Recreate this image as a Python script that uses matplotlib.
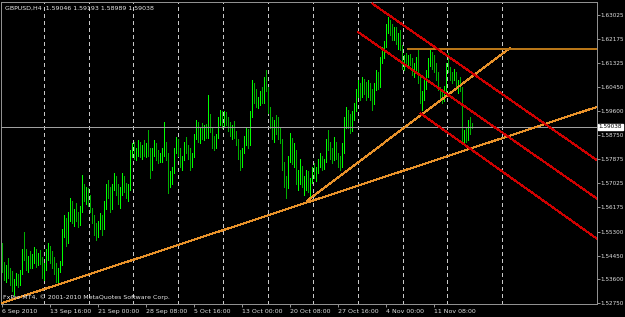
import matplotlib
matplotlib.use("Agg")
import matplotlib.pyplot as plt
from matplotlib import font_manager

# ---------------- data ----------------
symbol_title = "GBPUSD,H4"
last_ohlc = ["1.59046", "1.59193", "1.58989", "1.59038"]
last_price = 1.59038
copyright_text = "FxPro MT4, \u00a9 2001-2010 MetaQuotes Software Corp."

bar_open = [1.5460,1.5400,1.5370,1.5395,1.5375,1.5350,1.5330,1.5345,1.5370,1.5345,
            1.5385,1.5455,1.5450,1.5410,1.5430,1.5415,1.5440,1.5460,1.5425,1.5445,
            1.5420,1.5380,1.5400,1.5455,1.5470,1.5435,1.5420,1.5390,1.5365,1.5395,
            1.5415,1.5525,1.5575,1.5500,1.5590,1.5630,1.5575,1.5600,1.5580,1.5560,
            1.5610,1.5690,1.5660,1.5680,1.5640,1.5610,1.5575,1.5540,1.5520,1.5555,
            1.5580,1.5545,1.5630,1.5690,1.5660,1.5620,1.5690,1.5720,1.5680,1.5650,
            1.5670,1.5720,1.5690,1.5680,1.5690,1.5810,1.5830,1.5800,1.5820,1.5840,
            1.5810,1.5830,1.5815,1.5835,1.5820,1.5760,1.5815,1.5840,1.5800,1.5790,
            1.5800,1.5815,1.5830,1.5800,1.5700,1.5730,1.5750,1.5820,1.5850,1.5815,
            1.5780,1.5790,1.5840,1.5820,1.5800,1.5770,1.5800,1.5870,1.5900,1.5870,
            1.5890,1.5880,1.5900,1.5870,1.5935,1.5900,1.5850,1.5840,1.5870,1.5930,
            1.5950,1.5915,1.5945,1.5920,1.5900,1.5880,1.5900,1.5875,1.5850,1.5800,
            1.5770,1.5820,1.5860,1.5890,1.5845,1.5950,1.6050,1.6010,1.5990,1.6000,
            1.6020,1.6000,1.6070,1.6040,1.5970,1.5910,1.5880,1.5920,1.5890,1.5870,
            1.5855,1.5760,1.5700,1.5690,1.5790,1.5860,1.5780,1.5800,1.5710,1.5730,
            1.5760,1.5700,1.5700,1.5735,1.5690,1.5710,1.5750,1.5730,1.5750,1.5780,
            1.5790,1.5765,1.5785,1.5850,1.5830,1.5800,1.5790,1.5840,1.5800,1.5780,
            1.5770,1.5830,1.5920,1.5950,1.5920,1.5900,1.5950,1.5980,1.6030,1.6050,
            1.6020,1.6060,1.6040,1.6020,1.6050,1.6010,1.5990,1.6050,1.6090,1.6070,
            1.6140,1.6180,1.6200,1.6260,1.6270,1.6250,1.6230,1.6245,1.6210,1.6220,
            1.6190,1.6130,1.6150,1.6140,1.6155,1.6130,1.6100,1.6120,1.6140,1.6070,
            1.6000,1.6020,1.6060,1.6090,1.6140,1.6160,1.6130,1.6120,1.6080,1.6040,
            1.6010,1.6000,1.6040,1.6120,1.6110,1.6090,1.6080,1.6095,1.6050,1.6060,
            1.6040,1.5870,1.5880,1.5870,1.5920,1.59046]
bar_high = [1.5490,1.5422,1.5412,1.5437,1.5401,1.5390,1.5360,1.5383,1.5380,1.5395,
            1.5470,1.5530,1.5470,1.5445,1.5460,1.5450,1.5476,1.5470,1.5455,1.5465,
            1.5440,1.5420,1.5470,1.5490,1.5480,1.5460,1.5440,1.5420,1.5400,1.5425,
            1.5540,1.5590,1.5580,1.5600,1.5650,1.5640,1.5610,1.5633,1.5600,1.5620,
            1.5732,1.5700,1.5690,1.5685,1.5660,1.5615,1.5590,1.5560,1.5570,1.5597,
            1.5590,1.5640,1.5700,1.5714,1.5690,1.5700,1.5740,1.5730,1.5700,1.5690,
            1.5740,1.5730,1.5705,1.5700,1.5820,1.5846,1.5850,1.5830,1.5857,1.5850,
            1.5840,1.5857,1.5845,1.5893,1.5830,1.5830,1.5857,1.5845,1.5821,1.5810,
            1.5830,1.5921,1.5850,1.5810,1.5745,1.5760,1.5830,1.5868,1.5860,1.5830,
            1.5800,1.5850,1.5868,1.5840,1.5830,1.5810,1.5880,1.5928,1.5920,1.5900,
            1.5918,1.5910,1.5915,1.6017,1.5950,1.5905,1.5870,1.5880,1.5940,1.5964,
            1.5960,1.5960,1.5955,1.5940,1.5920,1.5910,1.5925,1.5890,1.5860,1.5820,
            1.5830,1.5870,1.5903,1.5895,1.5960,1.6071,1.6060,1.6040,1.6010,1.6030,
            1.6045,1.6080,1.6107,1.6045,1.5975,1.5940,1.5930,1.5945,1.5940,1.5900,
            1.5860,1.5780,1.5730,1.5800,1.5882,1.5865,1.5846,1.5820,1.5750,1.5790,
            1.5765,1.5730,1.5750,1.5745,1.5720,1.5760,1.5775,1.5760,1.5790,1.5811,
            1.5800,1.5790,1.5860,1.5893,1.5850,1.5830,1.5868,1.5850,1.5810,1.5800,
            1.5846,1.5940,1.5975,1.5965,1.5950,1.5960,1.5990,1.6040,1.6071,1.6060,
            1.6082,1.6075,1.6065,1.6070,1.6060,1.6040,1.6060,1.6107,1.6100,1.6153,
            1.6190,1.6210,1.6270,1.6295,1.6285,1.6270,1.6260,1.6260,1.6240,1.6250,
            1.6195,1.6160,1.6167,1.6160,1.6165,1.6150,1.6130,1.6153,1.6178,1.6080,
            1.6030,1.6070,1.6107,1.6150,1.6178,1.6170,1.6160,1.6132,1.6100,1.6046,
            1.6030,1.6050,1.6130,1.6167,1.6117,1.6100,1.6110,1.6100,1.6070,1.6080,
            1.6045,1.5893,1.5900,1.5930,1.5939,1.59193]
bar_low = [1.5385,1.5358,1.5351,1.5365,1.5340,1.5318,1.5305,1.5340,1.5333,1.5340,
           1.5380,1.5430,1.5395,1.5385,1.5400,1.5400,1.5420,1.5405,1.5410,1.5415,
           1.5365,1.5358,1.5395,1.5430,1.5420,1.5400,1.5380,1.5350,1.5347,1.5385,
           1.5410,1.5510,1.5480,1.5490,1.5570,1.5560,1.5550,1.5570,1.5547,1.5555,
           1.5600,1.5640,1.5630,1.5620,1.5600,1.5560,1.5520,1.5501,1.5510,1.5540,
           1.5520,1.5540,1.5610,1.5650,1.5600,1.5610,1.5680,1.5660,1.5630,1.5615,
           1.5660,1.5670,1.5650,1.5640,1.5680,1.5796,1.5790,1.5786,1.5800,1.5795,
           1.5790,1.5800,1.5795,1.5800,1.5722,1.5750,1.5800,1.5786,1.5775,1.5778,
           1.5780,1.5800,1.5786,1.5668,1.5690,1.5700,1.5740,1.5810,1.5800,1.5760,
           1.5750,1.5786,1.5810,1.5790,1.5750,1.5760,1.5795,1.5860,1.5850,1.5846,
           1.5860,1.5857,1.5865,1.5865,1.5885,1.5830,1.5821,1.5830,1.5865,1.5910,
           1.5900,1.5905,1.5910,1.5890,1.5870,1.5860,1.5865,1.5840,1.5790,1.5750,
           1.5760,1.5810,1.5840,1.5830,1.5840,1.5940,1.5990,1.5975,1.5971,1.5980,
           1.5990,1.5990,1.6030,1.5953,1.5900,1.5860,1.5850,1.5880,1.5860,1.5846,
           1.5750,1.5690,1.5650,1.5685,1.5780,1.5770,1.5760,1.5700,1.5679,1.5700,
           1.5690,1.5660,1.5680,1.5670,1.5654,1.5704,1.5720,1.5710,1.5740,1.5760,
           1.5750,1.5755,1.5780,1.5820,1.5790,1.5775,1.5785,1.5790,1.5760,1.5750,
           1.5760,1.5810,1.5900,1.5900,1.5882,1.5890,1.5930,1.5960,1.6010,1.6000,
           1.6010,1.6020,1.6000,1.6010,1.6000,1.5964,1.5985,1.6035,1.6040,1.6046,
           1.6130,1.6150,1.6190,1.6240,1.6230,1.6213,1.6215,1.6200,1.6180,1.6178,
           1.6110,1.6107,1.6120,1.6117,1.6125,1.6090,1.6082,1.6100,1.6060,1.5990,
           1.5964,1.6000,1.6040,1.6080,1.6120,1.6110,1.6100,1.6070,1.6035,1.5995,
           1.5989,1.5995,1.6030,1.6100,1.6070,1.6060,1.6070,1.6040,1.6025,1.6030,
           1.5846,1.5846,1.5850,1.5857,1.5880,1.58989]
bar_close = [1.5400,1.5370,1.5395,1.5375,1.5350,1.5330,1.5345,1.5370,1.5345,1.5385,
             1.5455,1.5450,1.5410,1.5430,1.5415,1.5440,1.5460,1.5425,1.5445,1.5420,
             1.5380,1.5400,1.5455,1.5470,1.5435,1.5420,1.5390,1.5365,1.5395,1.5415,
             1.5525,1.5575,1.5500,1.5590,1.5630,1.5575,1.5600,1.5580,1.5560,1.5610,
             1.5690,1.5660,1.5680,1.5640,1.5610,1.5575,1.5540,1.5520,1.5555,1.5580,
             1.5545,1.5630,1.5690,1.5660,1.5620,1.5690,1.5720,1.5680,1.5650,1.5670,
             1.5720,1.5690,1.5680,1.5690,1.5810,1.5830,1.5800,1.5820,1.5840,1.5810,
             1.5830,1.5815,1.5835,1.5820,1.5760,1.5815,1.5840,1.5800,1.5790,1.5800,
             1.5815,1.5830,1.5800,1.5700,1.5730,1.5750,1.5820,1.5850,1.5815,1.5780,
             1.5790,1.5840,1.5820,1.5800,1.5770,1.5800,1.5870,1.5900,1.5870,1.5890,
             1.5880,1.5900,1.5870,1.5935,1.5900,1.5850,1.5840,1.5870,1.5930,1.5950,
             1.5915,1.5945,1.5920,1.5900,1.5880,1.5900,1.5875,1.5850,1.5800,1.5770,
             1.5820,1.5860,1.5890,1.5845,1.5950,1.6050,1.6010,1.5990,1.6000,1.6020,
             1.6000,1.6070,1.6040,1.5970,1.5910,1.5880,1.5920,1.5890,1.5870,1.5855,
             1.5760,1.5700,1.5690,1.5790,1.5860,1.5780,1.5800,1.5710,1.5730,1.5760,
             1.5700,1.5700,1.5735,1.5690,1.5710,1.5750,1.5730,1.5750,1.5780,1.5790,
             1.5765,1.5785,1.5850,1.5830,1.5800,1.5790,1.5840,1.5800,1.5780,1.5770,
             1.5830,1.5920,1.5950,1.5920,1.5900,1.5950,1.5980,1.6030,1.6050,1.6020,
             1.6060,1.6040,1.6020,1.6050,1.6010,1.5990,1.6050,1.6090,1.6070,1.6140,
             1.6180,1.6200,1.6260,1.6270,1.6250,1.6230,1.6245,1.6210,1.6220,1.6190,
             1.6130,1.6150,1.6140,1.6155,1.6130,1.6100,1.6120,1.6140,1.6070,1.6000,
             1.6020,1.6060,1.6090,1.6140,1.6160,1.6130,1.6120,1.6080,1.6040,1.6010,
             1.6000,1.6040,1.6120,1.6110,1.6090,1.6080,1.6095,1.6050,1.6060,1.6040,
             1.5870,1.5880,1.5870,1.5920,1.5900,1.59038]

date_labels = ["6 Sep 2010", "13 Sep 16:00", "21 Sep 00:00", "28 Sep 08:00",
               "5 Oct 16:00", "13 Oct 00:00", "20 Oct 08:00", "27 Oct 16:00",
               "4 Nov 00:00", "11 Nov 08:00"]
date_label_bars = [0, 24, 48, 72, 96, 120, 144, 168, 192, 216]
grid_bars = [21.2, 43.7, 65.7, 88.2, 110.7, 133.2, 155.7, 178.0, 200.4, 222.7, 249.9]

price_ticks = [1.63025, 1.62175, 1.61325, 1.60450, 1.59600, 1.58750, 1.57875,
               1.57025, 1.56175, 1.55300, 1.54450, 1.53600, 1.52750]

# trend objects: (bar, price) anchor pairs
support_line = [(0, 1.5276), (297.5, 1.5975)]
steep_line = [(152.5, 1.5640), (254.0, 1.6185)]
resistance_line = [(202.5, 1.6181), (297.5, 1.6181)]
channel_top = [(185.0, 1.6344), (297.5, 1.5785)]
channel_mid = [(178.0, 1.6242), (297.5, 1.5648)]
channel_bot = [(209.0, 1.5953), (297.5, 1.5505)]

# ---------------- style ----------------
names = {f.name for f in font_manager.fontManager.ttflist}
small_font = "Liberation Sans Narrow" if "Liberation Sans Narrow" in names else "DejaVu Sans"
fs = 5.8 if small_font != "DejaVu Sans" else 4.5
fs_y = fs * 0.93
PX = 0.72  # one pixel in points

W, H = 625, 317
fig = plt.figure(figsize=(W / 100, H / 100), dpi=100, facecolor="black")
ax = fig.add_axes([1 / W, 13 / H, 596 / W, 302 / H], facecolor="black")
ax.set_xlim(-0.5, 297.5)
ax.set_ylim(1.52725, 1.63488)

# grid (dashed verticals)
ax.vlines(grid_bars, 1.52725, 1.63488, colors="#C8C8C8", linewidth=PX,
          linestyles=(0, (3, 3)), antialiased=False, zorder=1)

# bars
xs = list(range(len(bar_close)))
cols = ["#00FF00" if c >= o else "#00B000" for o, c in zip(bar_open, bar_close)]
ax.vlines(xs, bar_low, bar_high, colors=cols, linewidth=PX, antialiased=False, zorder=2)

# current price line
ax.axhline(last_price, color="#A0A0A0", linewidth=PX, antialiased=False, zorder=3)

# trend lines
def seg(pts, color, lw):
    (x1, y1), (x2, y2) = pts
    ax.plot([x1, x2], [y1, y2], color=color, linewidth=lw, solid_capstyle="butt",
            antialiased=False, zorder=4)

seg(support_line, "#E8922A", PX)
seg(steep_line, "#E8922A", PX)
seg(resistance_line, "#B87618", 2 * PX)
seg(channel_top, "#D00000", PX)
seg(channel_mid, "#D00000", PX)
seg(channel_bot, "#D00000", PX)

# spines
for s in ax.spines.values():
    s.set_color("#909090")
    s.set_linewidth(PX)

# y axis on right
ax.yaxis.tick_right()
ax.set_yticks(price_ticks)
ax.set_yticklabels([f"{p:.5f}" for p in price_ticks])
ax.tick_params(axis="y", direction="out", length=2.2, width=PX, color="#909090",
               labelcolor="#E0E0E0", labelsize=fs_y, pad=0.6)
for t in ax.get_yticklabels():
    t.set_family(small_font)

# x axis
ax.set_xticks(date_label_bars)
ax.set_xticklabels(date_labels, ha="left")
ax.tick_params(axis="x", direction="out", length=2.2, width=PX, color="#909090",
               labelcolor="#E0E0E0", labelsize=fs, pad=1.5)
for t in ax.get_xticklabels():
    t.set_family(small_font)

# current price label box
ax.annotate(f"{last_price:.5f}", xy=(1.0, last_price), xycoords=("axes fraction", "data"),
            xytext=(1.3, 0), textcoords="offset points", ha="left", va="center",
            fontsize=fs_y, family=small_font, color="black",
            bbox=dict(boxstyle="square,pad=0.08", fc="white", ec="white"), zorder=6,
            annotation_clip=False)

# header and copyright
fig.text(5 / W, 1 - 8 / H, symbol_title + "  " + " ".join(last_ohlc), fontsize=fs,
         family=small_font, color="#E8E8E8", va="center", ha="left")
fig.text(3 / W, 1 - 297 / H, copyright_text, fontsize=fs, family=small_font,
         color="#E8E8E8", va="center", ha="left")

fig.savefig("out.png", dpi=100, facecolor="black")
